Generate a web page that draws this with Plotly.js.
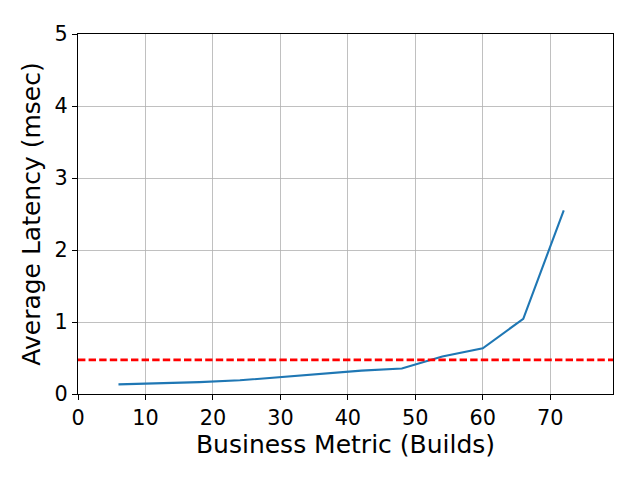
<!DOCTYPE html>
<html>
<head>
<meta charset="utf-8">
<script src="https://cdn.plot.ly/plotly-3.0.1.min.js"></script>
<style>html,body{margin:0;padding:0;background:#fff;}#chart{width:640px;height:480px;}</style>
</head>
<body>
<div id="chart"></div>
<script>
const builds = [6, 12, 18, 24, 30, 36, 42, 48, 54, 60, 66, 72];
const latency = [0.133, 0.145, 0.165, 0.19, 0.235, 0.275, 0.325, 0.355, 0.52, 0.635, 1.045, 2.55];
const threshold = 0.475;
const xTicks = [0, 10, 20, 30, 40, 50, 60, 70];
const yTicks = [0, 1, 2, 3, 4, 5];

const font = "DejaVu Sans, sans-serif";
const trace = {
  x: builds, y: latency, type: 'scatter', mode: 'lines',
  line: {color: '#1f77b4', width: 2.1}, hoverinfo: 'skip'
};
const layout = {
  width: 640, height: 480,
  margin: {l: 78, r: 27, t: 34, b: 86},
  paper_bgcolor: '#fff', plot_bgcolor: '#fff',
  showlegend: false,
  font: {family: font, color: '#000', size: 20.8},
  xaxis: {
    range: [0, 79.3], tickvals: xTicks, ticktext: xTicks.map(String),
    showgrid: true, gridcolor: '#b0b0b0', gridwidth: 0.8,
    showline: true, mirror: true, linecolor: '#000', linewidth: 1,
    ticks: 'outside', ticklen: 5, tickwidth: 1, tickcolor: '#000',
    zeroline: false, tickfont: {size: 20.8, family: font},
    title: {text: 'Business Metric (Builds)', font: {size: 25, family: font}, standoff: 4}
  },
  yaxis: {
    range: [0, 5], tickvals: yTicks, ticktext: yTicks.map(String),
    showgrid: true, gridcolor: '#b0b0b0', gridwidth: 0.8,
    showline: true, mirror: true, linecolor: '#000', linewidth: 1,
    ticks: 'outside', ticklen: 5, tickwidth: 1, tickcolor: '#000',
    zeroline: false, tickfont: {size: 20.8, family: font},
    title: {text: 'Average Latency (msec)', font: {size: 25, family: font}, standoff: 6}
  },
  shapes: [{
    type: 'line', xref: 'paper', x0: 0, x1: 1, yref: 'y', y0: threshold, y1: threshold,
    line: {color: '#ff0000', width: 2.8, dash: '7.4px,3.2px'}
  }]
};
Plotly.newPlot('chart', [trace], layout, {staticPlot: true, displayModeBar: false});
</script>
</body>
</html>
